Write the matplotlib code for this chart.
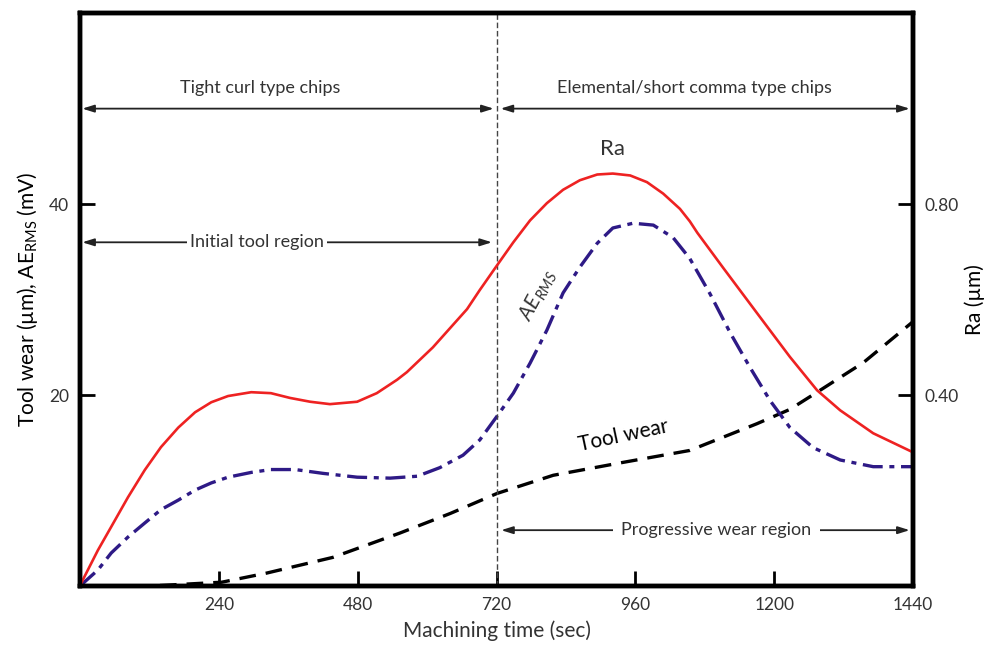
import matplotlib
matplotlib.use("Agg")
import matplotlib.pyplot as plt

plt.rcParams['font.family'] = ['Lato', 'DejaVu Sans']
plt.rcParams['mathtext.default'] = 'regular'

# machining time (sec) and readings taken off the reference figure
ra_time = [0, 5, 31, 54, 83, 112, 140, 170, 199, 227, 256, 296, 330, 363, 398,
           432, 479, 513, 548, 565, 610, 669, 691, 721, 749, 778, 807, 835, 864,
           894, 921, 951, 980, 1008, 1037, 1054, 1067, 1112, 1170, 1227, 1274,
           1314, 1371, 1440]
ra_um = [0, 0.013, 0.075, 0.124, 0.186, 0.243, 0.291, 0.332, 0.364, 0.385,
         0.398, 0.406, 0.404, 0.394, 0.386, 0.381, 0.386, 0.404, 0.432, 0.448,
         0.50, 0.58, 0.62, 0.672, 0.72, 0.766, 0.802, 0.83, 0.85, 0.862, 0.864,
         0.86, 0.846, 0.822, 0.79, 0.764, 0.74, 0.666, 0.572, 0.48, 0.41,
         0.368, 0.32, 0.28]

ae_time = [0, 31, 54, 83, 112, 140, 170, 199, 227, 256, 296, 330, 372, 420, 479,
           536, 583, 622, 662, 691, 721, 749, 778, 807, 835, 864, 894, 921, 956,
           991, 1025, 1054, 1089, 1124, 1158, 1193, 1227, 1267, 1314, 1371, 1440]
ae_mv = [0, 1.68, 3.46, 5.13, 6.6, 8.0, 9.0, 10.05, 10.8, 11.4, 11.9, 12.2, 12.2,
         11.8, 11.4, 11.3, 11.5, 12.4, 13.7, 15.3, 17.8, 20.2, 23.35, 26.8, 30.7,
         33.4, 35.9, 37.5, 38.0, 37.8, 36.5, 34.3, 30.6, 26.5, 22.9, 19.4, 16.6,
         14.5, 13.2, 12.5, 12.5]

wear_time = [0, 121, 245, 323, 437, 553, 640, 721, 818, 934, 1054, 1170, 1227,
             1274, 1354, 1440]
wear_um = [0, 0, 0.4, 1.36, 3.0, 5.55, 7.6, 9.7, 11.6, 12.9, 14.2, 17.0, 18.5,
           20.3, 23.4, 27.7]

x_ticks = [240, 480, 720, 960, 1200, 1440]
left_ticks = [20, 40]
right_ticks = [0.40, 0.80]

txt_col = '#333333'

fig = plt.figure(figsize=(9.86, 6.51), dpi=100)
ax = fig.add_axes([0.0811, 0.0998, 0.845, 0.880])
ax2 = ax.twinx()

ax.plot(wear_time, wear_um, color='black', lw=2.4, ls=(0, (5, 3)))
ax.plot(ae_time, ae_mv, color='#2e1a86', lw=2.4, ls=(0, (6, 2, 1.5, 2)))
ax2.plot(ra_time, ra_um, color='#ee2222', lw=1.9)

ax.set_xlim(0, 1440)
ax.set_ylim(0, 60)
ax2.set_ylim(0, 1.2)

ax.set_xticks(x_ticks)
ax.set_yticks(left_ticks)
ax2.set_yticks(right_ticks)
ax2.set_yticklabels(['%.2f' % v for v in right_ticks])

for a in (ax, ax2):
    for s in a.spines.values():
        s.set_linewidth(3.2)
    a.tick_params(direction='in', length=11, width=2, labelsize=12.5,
                  colors='black', labelcolor=txt_col, pad=8)

ax.set_xlabel('Machining time (sec)', fontsize=15, color=txt_col, labelpad=5)
ax.set_ylabel('Tool wear (µm), AE$_{RMS}$ (mV)', fontsize=15, color='black', labelpad=6)
ax2.set_ylabel('Ra (µm)', fontsize=15, color='black', labelpad=4)

# dividing line at 720 s
ax.axvline(720, color='#444444', lw=1.0, ls=(0, (4, 2)))

arrow = dict(arrowstyle='<|-|>,head_length=0.7,head_width=0.22', color='#222222',
             lw=1.3, shrinkA=0, shrinkB=0)

ax.annotate('', xy=(4, 50), xytext=(715, 50), arrowprops=arrow)
ax.annotate('', xy=(727, 50), xytext=(1434, 50), arrowprops=arrow)
ax.text(312, 52.2, 'Tight curl type chips', ha='center', va='center',
        fontsize=13, color=txt_col)
ax.text(1062, 52.2, 'Elemental/short comma type chips', ha='center', va='center',
        fontsize=13, color=txt_col)

ax.annotate('', xy=(4, 36), xytext=(712, 36), arrowprops=arrow)
ax.text(306, 36, 'Initial tool region', ha='center', va='center', fontsize=13,
        color=txt_col, bbox=dict(facecolor='white', edgecolor='none', pad=2))

ax.annotate('', xy=(728, 5.85), xytext=(1434, 5.85), arrowprops=arrow)
ax.text(1100, 5.85, 'Progressive wear region', ha='center', va='center',
        fontsize=13, color=txt_col,
        bbox=dict(facecolor='white', edgecolor='none', pad=6))

# curve labels
ax.text(921, 45.8, 'Ra', ha='center', va='center', fontsize=16, color=txt_col)
ax.text(792, 30.5, 'AE$_{RMS}$', ha='center', va='center', fontsize=15,
        color=txt_col, rotation=62, style='italic')
ax.text(940, 15.8, 'Tool wear', ha='center', va='center', fontsize=15,
        color='black', rotation=12)

fig.savefig('out.png', dpi=100)
